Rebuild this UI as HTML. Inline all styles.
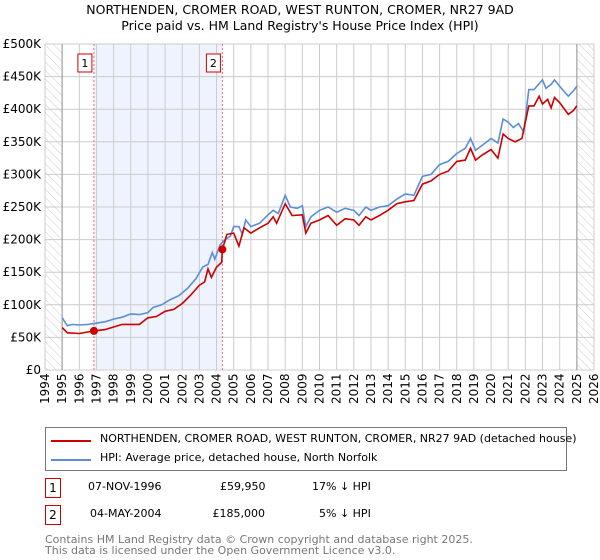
<!DOCTYPE html>
<html><head><meta charset="utf-8"><style>
body{margin:0;background:#fff;font-family:"DejaVu Sans","Liberation Sans",sans-serif;}
#wrap{position:relative;width:600px;height:560px;overflow:hidden}
.t{position:absolute;font-size:12px;color:#000;white-space:nowrap}
.box{position:absolute;border:1px solid #c00;width:14px;height:18px;text-align:center;font-size:12px;line-height:18px}
</style></head><body><div id="wrap">
<div class="t" style="left:0;width:600px;text-align:center;top:2px;font-size:12.5px;line-height:16px">NORTHENDEN, CROMER ROAD, WEST RUNTON, CROMER, NR27 9AD<br>Price paid vs. HM Land Registry's House Price Index (HPI)</div>
<svg id="c" width="600" height="420" style="position:absolute;left:0;top:0"></svg>
<div style="position:absolute;left:45px;top:427px;width:520px;height:42px;border:1px solid #777">
<div style="position:absolute;left:5px;top:12px;width:40px;height:2px;background:#c00"></div>
<div class="t" style="left:54px;top:4px;font-size:11px">NORTHENDEN, CROMER ROAD, WEST RUNTON, CROMER, NR27 9AD (detached house)</div>
<div style="position:absolute;left:5px;top:31px;width:40px;height:2px;background:#5b8ed6"></div>
<div class="t" style="left:54px;top:23px;font-size:11px">HPI: Average price, detached house, North Norfolk</div>
</div>
<div class="box" style="left:45px;top:478px">1</div>
<div class="t" style="left:88px;top:480px;font-size:11px">07-NOV-1996</div>
<div class="t" style="left:220px;top:480px;font-size:11px;width:45px;text-align:right">£59,950</div>
<div class="t" style="left:312px;top:480px;font-size:11px">17% ↓ HPI</div>
<div class="box" style="left:45px;top:505px">2</div>
<div class="t" style="left:90px;top:507px;font-size:11px">04-MAY-2004</div>
<div class="t" style="left:200px;top:507px;font-size:11px;width:65px;text-align:right">£185,000</div>
<div class="t" style="left:319px;top:507px;font-size:11px">5% ↓ HPI</div>
<div class="t" style="left:45px;top:534px;font-size:11px;line-height:11px;color:#777">Contains HM Land Registry data © Crown copyright and database right 2025.<br>This data is licensed under the Open Government Licence v3.0.</div>
</div>
<script>
const hpiYears=[1995,1995.3,1995.6,1996,1996.5,1997,1997.5,1998,1998.5,1999,1999.5,2000,2000.3,2000.8,2001.3,2001.8,2002.3,2002.8,2003.2,2003.5,2003.75,2003.9,2004.2,2004.5,2004.8,2005,2005.3,2005.5,2005.7,2006,2006.5,2007,2007.3,2007.6,2008,2008.3,2008.7,2009,2009.2,2009.5,2010,2010.5,2011,2011.5,2012,2012.3,2012.7,2013,2013.5,2014,2014.5,2015,2015.5,2016,2016.5,2017,2017.5,2018,2018.5,2018.8,2019.1,2019.5,2020,2020.4,2020.7,2021,2021.3,2021.6,2021.9,2022.2,2022.5,2023,2023.2,2023.5,2023.7,2024,2024.5,2024.8,2025];
const hpiValues=[80,68,70,69,70,72,74,78,81,86,85,88,96,100,108,114,125,140,158,162,180,170,192,200,205,220,220,208,230,220,225,238,245,240,268,250,248,252,220,235,245,250,242,248,245,237,250,245,250,252,262,270,268,297,300,315,320,332,340,355,337,345,355,348,385,380,372,378,365,430,430,445,432,438,445,435,420,428,435];
const propYears=[1995,1995.3,1996,1996.85,1997.5,1998,1998.5,1999.5,2000,2000.5,2001,2001.5,2002,2002.5,2003,2003.3,2003.5,2003.7,2004,2004.3,2004.34,2004.6,2005,2005.3,2005.6,2006,2006.5,2007,2007.3,2007.5,2008,2008.4,2009,2009.2,2009.5,2010,2010.5,2011,2011.5,2012,2012.3,2012.7,2013,2013.5,2014,2014.5,2015,2015.5,2016,2016.5,2017,2017.5,2018,2018.5,2018.8,2019.1,2019.5,2020,2020.4,2020.7,2021,2021.4,2021.8,2022.2,2022.5,2022.8,2023,2023.3,2023.5,2023.7,2024,2024.5,2024.8,2025];
const propValues=[65,57,56,59.95,62,66,70,70,80,82,90,93,102,115,130,135,155,142,158,165,185,208,210,190,218,210,218,225,235,225,255,237,238,210,225,230,237,222,232,230,222,235,230,237,245,255,258,260,285,290,300,305,320,322,340,322,330,338,325,362,355,350,355,405,405,420,408,415,402,418,410,392,398,405];
const saleYears=[1996.85,2004.34];
const saleValues=[59.95,185];
const saleLabels=["1","2"];
const yTicks=[0,50,100,150,200,250,300,350,400,450,500];
const yTickLabels=["£0","£50K","£100K","£150K","£200K","£250K","£300K","£350K","£400K","£450K","£500K"];
const xTicks=[];for(let y=1994;y<=2026;y++)xTicks.push(y);

const X0=45,X1=594,Y0=370,Y1=44;
const xs=v=>X0+(v-1994)/(2026-1994)*(X1-X0);
const ys=v=>Y0-v/500*(Y0-Y1);
const svg=document.getElementById('c');const NS='http://www.w3.org/2000/svg';
function mk(t,a){const e=document.createElementNS(NS,t);for(const k in a)e.setAttribute(k,a[k]);svg.appendChild(e);return e;}
let defs=document.createElementNS(NS,'defs');defs.innerHTML='<pattern id="h" width="6" height="6" patternUnits="userSpaceOnUse" patternTransform="rotate(-45)"><line x1="0" y1="0" x2="0" y2="6" stroke="#ccc" stroke-width="1"/></pattern>';svg.appendChild(defs);
let r=mk('rect',{x:xs(saleYears[0]),y:Y1,width:xs(saleYears[1])-xs(saleYears[0]),height:Y0-Y1,fill:'#eef3fd'});


r=mk('rect',{x:X0,y:Y1,width:xs(1995)-X0,height:Y0-Y1,fill:'url(#h)'});


r=mk('rect',{x:xs(2025),y:Y1,width:X1-xs(2025),height:Y0-Y1,fill:'url(#h)'});


yTicks.forEach((v,i)=>{const l=mk('line',{x1:X0,x2:X1,y1:ys(v),y2:ys(v),stroke:'#ccc'});


const t=mk('text',{x:X0-4,y:ys(v)+4,'text-anchor':'end','font-size':'12','font-family':'DejaVu Sans,sans-serif'});t.textContent=yTickLabels[i];

});
xTicks.forEach(v=>{const l=mk('line',{x1:xs(v),x2:xs(v),y1:Y1,y2:Y0,stroke:'#ccc'});


const t=mk('text',{x:0,y:0,'font-size':'12','font-family':'DejaVu Sans,sans-serif',transform:`translate(${xs(v)+4},${Y0+34}) rotate(-90)`});t.textContent=v;

});
[1995,2025].forEach(v=>{const l=mk('line',{x1:xs(v),x2:xs(v),y1:Y1,y2:Y0,stroke:'#999'});

});
saleYears.forEach((v,i)=>{const l=mk('line',{x1:xs(v),x2:xs(v),y1:Y1,y2:Y0,stroke:'#f66','stroke-dasharray':'2,2'});


const b=mk('rect',{x:xs(v)-16,y:54,width:14,height:18,fill:'#fff',stroke:'#c00'});


const t=mk('text',{x:xs(v)-9,y:67,'text-anchor':'middle','font-size':'11','font-family':'DejaVu Sans,sans-serif'});t.textContent=saleLabels[i];

});
const pts=(a,b)=>a.map((x,i)=>xs(x).toFixed(1)+','+ys(b[i]).toFixed(1)).join(' ');
let p=mk('polyline',{points:pts(hpiYears,hpiValues),fill:'none',stroke:'#5b8ed6','stroke-width':1.6});


p=mk('polyline',{points:pts(propYears,propValues),fill:'none',stroke:'#c00','stroke-width':1.6});


saleYears.forEach((v,i)=>{const c=mk('circle',{cx:xs(v),cy:ys(saleValues[i]),r:4,fill:'#c00'});

});
</script></body></html>
